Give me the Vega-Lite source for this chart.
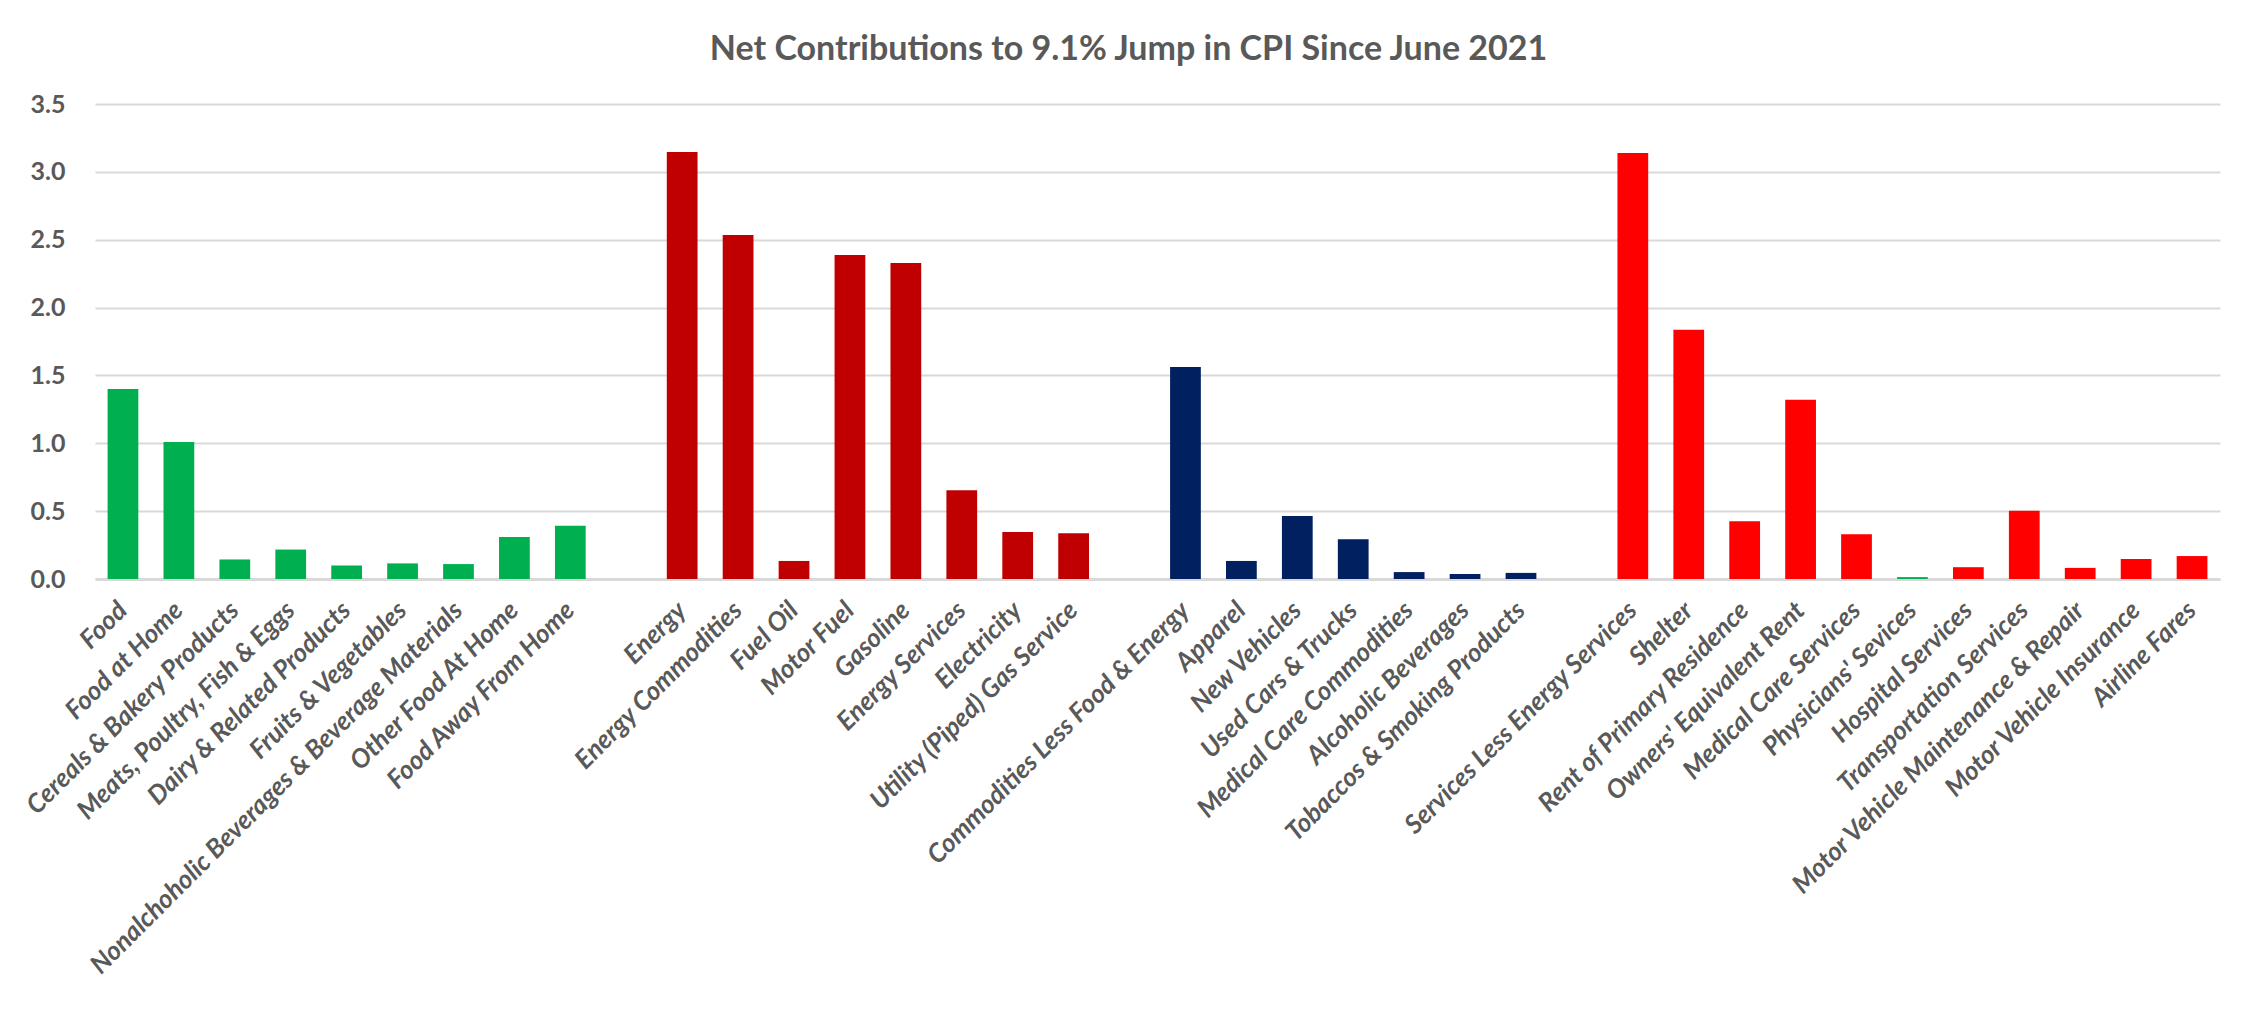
{
  "$schema": "https://vega.github.io/schema/vega-lite/v6.json",
  "width": 2125,
  "height": 475,
  "autosize": {"type": "none"},
  "padding": {"left": 95, "top": 104, "right": 35, "bottom": 439},
  "background": "#FFFFFF",
  "title": {
    "text": "Net Contributions to 9.1% Jump in CPI Since June 2021",
    "font": "Lato",
    "fontSize": 34,
    "fontWeight": "bold",
    "color": "#595959",
    "anchor": "middle",
    "frame": "group",
    "baseline": "alphabetic",
    "offset": -2,
    "dx": -29
  },
  "data": {
    "values": [
      {"item": "Food", "group": "Food", "value": 1.40},
      {"item": "Food at Home", "group": "Food", "value": 1.01},
      {"item": "Cereals & Bakery Products", "group": "Food", "value": 0.144},
      {"item": "Meats, Poultry, Fish & Eggs", "group": "Food", "value": 0.217},
      {"item": "Dairy & Related Products", "group": "Food", "value": 0.10},
      {"item": "Fruits & Vegetables", "group": "Food", "value": 0.115},
      {"item": "Nonalchoholic Beverages & Beverage Materials", "group": "Food", "value": 0.11},
      {"item": "Other Food At Home", "group": "Food", "value": 0.31},
      {"item": "Food Away From Home", "group": "Food", "value": 0.392},
      {"item": "Energy", "group": "Energy", "value": 3.147},
      {"item": "Energy Commodities", "group": "Energy", "value": 2.535},
      {"item": "Fuel Oil", "group": "Energy", "value": 0.133},
      {"item": "Motor Fuel", "group": "Energy", "value": 2.388},
      {"item": "Gasoline", "group": "Energy", "value": 2.329},
      {"item": "Energy Services", "group": "Energy", "value": 0.654},
      {"item": "Electricity", "group": "Energy", "value": 0.346},
      {"item": "Utility (Piped) Gas Service", "group": "Energy", "value": 0.338},
      {"item": "Commodities Less Food & Energy", "group": "Commodities", "value": 1.562},
      {"item": "Apparel", "group": "Commodities", "value": 0.133},
      {"item": "New Vehicles", "group": "Commodities", "value": 0.465},
      {"item": "Used Cars & Trucks", "group": "Commodities", "value": 0.293},
      {"item": "Medical Care Commodities", "group": "Commodities", "value": 0.051},
      {"item": "Alcoholic Beverages", "group": "Commodities", "value": 0.037},
      {"item": "Tobaccos & Smoking Products", "group": "Commodities", "value": 0.045},
      {"item": "Services Less Energy Services", "group": "Services", "value": 3.139},
      {"item": "Shelter", "group": "Services", "value": 1.836},
      {"item": "Rent of Primary Residence", "group": "Services", "value": 0.426},
      {"item": "Owners' Equivalent Rent", "group": "Services", "value": 1.32},
      {"item": "Medical Care Services", "group": "Services", "value": 0.33},
      {"item": "Physicians' Sevices", "group": "Services (physicians)", "value": 0.014},
      {"item": "Hospital Services", "group": "Services", "value": 0.087},
      {"item": "Transportation Services", "group": "Services", "value": 0.502},
      {"item": "Motor Vehicle Maintenance & Repair", "group": "Services", "value": 0.082},
      {"item": "Motor Vehicle Insurance", "group": "Services", "value": 0.147},
      {"item": "Airline Fares", "group": "Services", "value": 0.169}
    ]
  },
  "mark": {"type": "bar"},
  "encoding": {
    "x": {
      "field": "item",
      "type": "nominal",
      "sort": null,
      "scale": {
        "domain": ["Food", "Food at Home", "Cereals & Bakery Products", "Meats, Poultry, Fish & Eggs", "Dairy & Related Products", "Fruits & Vegetables", "Nonalchoholic Beverages & Beverage Materials", "Other Food At Home", "Food Away From Home", "_gap1",
          "Energy", "Energy Commodities", "Fuel Oil", "Motor Fuel", "Gasoline", "Energy Services", "Electricity", "Utility (Piped) Gas Service", "_gap2",
          "Commodities Less Food & Energy", "Apparel", "New Vehicles", "Used Cars & Trucks", "Medical Care Commodities", "Alcoholic Beverages", "Tobaccos & Smoking Products", "_gap3",
          "Services Less Energy Services", "Shelter", "Rent of Primary Residence", "Owners' Equivalent Rent", "Medical Care Services", "Physicians' Sevices", "Hospital Services", "Transportation Services", "Motor Vehicle Maintenance & Repair", "Motor Vehicle Insurance", "Airline Fares"],
        "paddingInner": 0.45,
        "paddingOuter": 0.225
      },
      "axis": {
        "title": null,
        "labelAngle": -45,
        "labelAlign": "right",
        "labelBaseline": "middle",
        "labelFont": "Lato",
        "labelFontSize": 26,
        "labelFontWeight": "bold",
        "labelFontStyle": "italic",
        "labelColor": "#595959",
        "labelPadding": 27,
        "labelOverlap": false,
        "labelLimit": 0,
        "labelExpr": "indexof(datum.value, '_gap') == 0 ? '' : datum.value",
        "ticks": false,
        "domain": true,
        "domainColor": "#D9D9D9",
        "domainWidth": 3,
        "grid": false
      }
    },
    "y": {
      "field": "value",
      "type": "quantitative",
      "scale": {"domain": [0, 3.5], "nice": false},
      "axis": {
        "title": null,
        "values": [0, 0.5, 1, 1.5, 2, 2.5, 3, 3.5],
        "format": ".1f",
        "labelFont": "Lato",
        "labelFontSize": 25,
        "labelFontWeight": "bold",
        "labelColor": "#595959",
        "labelPadding": 30,
        "ticks": false,
        "domain": false,
        "grid": true,
        "gridColor": "#D9D9D9",
        "gridWidth": 2
      }
    },
    "color": {
      "field": "group",
      "type": "nominal",
      "scale": {
        "domain": ["Food", "Energy", "Commodities", "Services", "Services (physicians)"],
        "range": ["#00B050", "#C00000", "#002060", "#FF0000", "#00B050"]
      },
      "legend": null
    }
  },
  "config": {
    "view": {"stroke": null}
  }
}
